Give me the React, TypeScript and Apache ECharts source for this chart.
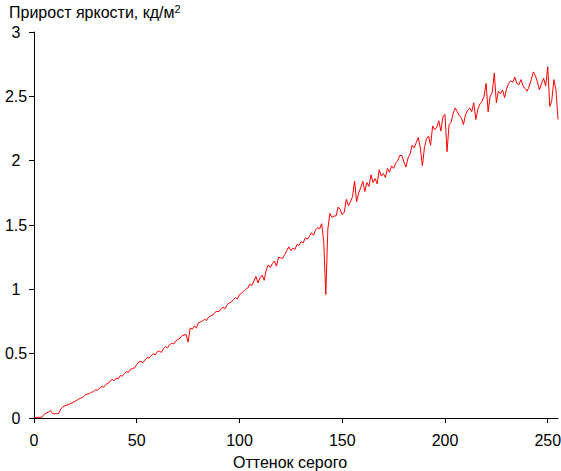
import React, { useEffect, useRef } from "react";
import * as echarts from "echarts";

// Brightness increment (cd/m²) for each grey level 0..255
const values0: number[] = [
  0.0, 0.005, 0.005, 0.005, 0.008, 0.03, 0.04, 0.045, 0.058, 0.035, 0.033, 0.033, 0.035, 0.07, 0.085, 0.095,
  0.1, 0.105, 0.115, 0.12, 0.13, 0.14, 0.15, 0.155, 0.165, 0.18, 0.185, 0.19, 0.2, 0.205, 0.22, 0.215,
  0.235, 0.245, 0.24, 0.26, 0.27, 0.285, 0.3, 0.29, 0.31, 0.305, 0.33, 0.325, 0.345, 0.36, 0.355, 0.38,
  0.385, 0.39, 0.415, 0.435, 0.44, 0.43, 0.45, 0.47, 0.465, 0.485, 0.5, 0.49, 0.515, 0.52, 0.51, 0.54,
];
const values1: number[] = [
  0.555, 0.545, 0.57, 0.58, 0.575, 0.6, 0.61, 0.62, 0.64, 0.645, 0.65, 0.59, 0.7, 0.69, 0.715, 0.7,
  0.74, 0.745, 0.755, 0.765, 0.76, 0.785, 0.795, 0.8, 0.82, 0.83, 0.825, 0.85, 0.86, 0.85, 0.88, 0.895,
  0.9, 0.92, 0.935, 0.925, 0.96, 0.97, 0.985, 1.0, 1.01, 1.04, 1.03, 1.065, 1.1, 1.05, 1.09, 1.11,
  1.07, 1.15, 1.19, 1.17, 1.2, 1.22, 1.18, 1.25, 1.245, 1.24, 1.27, 1.3, 1.33, 1.3, 1.32, 1.31,
];
const values2: number[] = [
  1.35, 1.34, 1.37, 1.36, 1.4, 1.39, 1.41, 1.44, 1.42, 1.46, 1.48, 1.47, 1.51, 1.37, 0.96, 1.47,
  1.59, 1.56, 1.57, 1.57, 1.64, 1.62, 1.58, 1.6, 1.7, 1.65, 1.68, 1.72, 1.84, 1.68, 1.75, 1.79,
  1.84, 1.76, 1.83, 1.8, 1.89, 1.83, 1.86, 1.82, 1.93, 1.88, 1.9, 1.87, 1.94, 1.91, 1.96, 1.94,
  1.98, 2.0, 2.04, 2.04, 1.99, 1.95, 2.02, 2.05, 2.12, 2.1, 2.14, 2.18, 2.1, 1.96, 2.1, 2.17,
];
const values3: number[] = [
  2.19, 2.12, 2.27, 2.24, 2.26, 2.31, 2.23, 2.34, 2.36, 2.07, 2.28, 2.3, 2.37, 2.41, 2.38, 2.35,
  2.33, 2.28, 2.36, 2.39, 2.41, 2.38, 2.45, 2.32, 2.4, 2.44, 2.46, 2.5, 2.6, 2.38, 2.5, 2.53,
  2.68, 2.45, 2.54, 2.52, 2.55, 2.49, 2.56, 2.6, 2.62, 2.61, 2.65, 2.6, 2.59, 2.63, 2.58, 2.56,
  2.54, 2.58, 2.63, 2.69, 2.66, 2.61, 2.55, 2.6, 2.64, 2.58, 2.73, 2.42, 2.47, 2.63, 2.55, 2.32,
];
const values: number[] = [...values0, ...values1, ...values2, ...values3];

const xTicks: number[] = [0, 50, 100, 150, 200, 250];
const yTicks: number[] = [0, 0.5, 1, 1.5, 2, 2.5, 3];

const titleText = "Прирост яркости, кд/м";
const titleSup = "2";
const xName = "Оттенок серого";

const FONT = "'Liberation Sans', Arial, sans-serif";

export default function App() {
  const ref = useRef<HTMLDivElement>(null);
  useEffect(() => {
    if (!ref.current) return;
    const chart = echarts.init(ref.current, undefined, { renderer: "svg" });
    const data = values.map((v, i) => [i, v]);
    chart.setOption({
      animation: false,
      backgroundColor: "#ffffff",
      textStyle: { fontFamily: FONT },
      title: {
        text: `${titleText}{sup|${titleSup}}`,
        left: 9,
        top: 3,
        padding: 0,
        textStyle: {
          fontFamily: FONT,
          fontSize: 16,
          fontWeight: "normal",
          color: "#000",
          lineHeight: 18,
          rich: {
            sup: { fontFamily: FONT, fontSize: 11, color: "#000", lineHeight: 14, verticalAlign: "top", padding: [0, 0, 0, 0] },
          },
        },
      },
      grid: { left: 34, right: 3, top: 32, bottom: 53, outerBoundsMode: "none", containLabel: false },
      xAxis: {
        type: "value",
        min: 0,
        max: 255,
        interval: 50,
        name: xName,
        nameLocation: "middle",
        nameGap: 36,
        nameTextStyle: { fontFamily: FONT, fontSize: 16, color: "#000", padding: [0, 12, 0, 0] },
        axisLine: { show: true, lineStyle: { color: "#000", width: 1 } },
        axisTick: { show: true, length: 5, lineStyle: { color: "#000" }, customValues: xTicks },
        axisLabel: { fontFamily: FONT, fontSize: 16, color: "#000", margin: 14, customValues: xTicks },
        splitLine: { show: false },
      },
      yAxis: {
        type: "value",
        min: 0,
        max: 3,
        interval: 0.5,
        axisLine: { show: true, lineStyle: { color: "#000", width: 1 } },
        axisTick: { show: true, length: 5, lineStyle: { color: "#000" }, customValues: yTicks },
        axisLabel: { fontFamily: FONT, fontSize: 16, color: "#000", margin: 18, align: "center", customValues: yTicks },
        splitLine: { show: false },
      },
      series: [
        {
          type: "line",
          data,
          showSymbol: false,
          symbol: "none",
          lineStyle: { color: "#ff0000", width: 1 },
          itemStyle: { color: "#ff0000" },
        },
      ],
    });
    return () => chart.dispose();
  }, []);
  return (
    <div
      ref={ref}
      style={{ position: "fixed", left: 0, top: 0, width: 561, height: 471, background: "#fff" }}
    />
  );
}
